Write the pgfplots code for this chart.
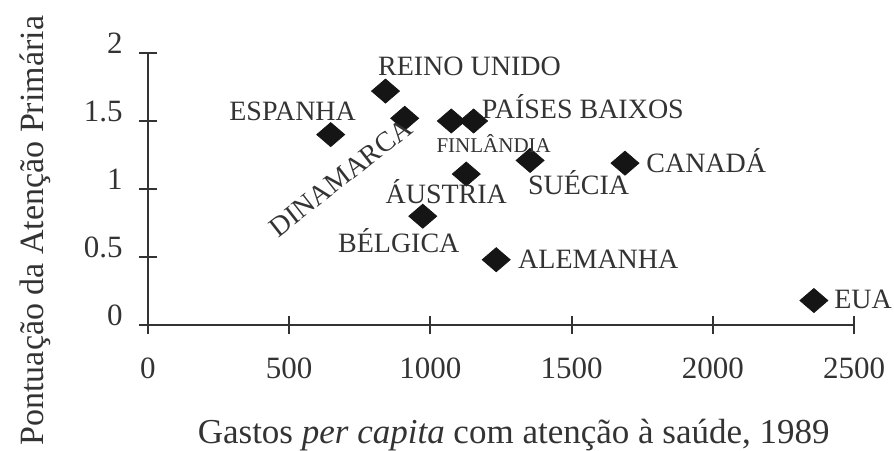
\documentclass[border=0pt]{standalone}
\usepackage{fontspec}
\setmainfont{Liberation Serif}
\usepackage{pgfplots}
\usepackage{pgfplotstable}
\pgfplotsset{compat=1.18}
\definecolor{ink}{HTML}{333333}
\definecolor{mark}{HTML}{151515}

% x: gasto per capita, y: pontuacao; lx/ly: deslocamento do rotulo (pt)
\pgfplotstableread[col sep=comma]{
x,y,nome,lx,ly
841,1.72,REINO UNIDO,-3.9,8
1153,1.50,PAÍSES BAIXOS,3.9,1.2
1353,1.21,SUÉCIA,-1.2,-17.2
1689,1.19,CANADÁ,10.5,-4.5
1233,0.48,ALEMANHA,10.8,-4.5
2358,0.18,EUA,10,-4.2
}\direita
\pgfplotstableread[col sep=comma]{
x,y,nome,lx,ly
647,1.40,ESPANHA,12.8,7
}\esquerda
\pgfplotstableread[col sep=comma]{
x,y,nome,lx,ly
1127,1.11,ÁUSTRIA,-10,-14.5
973,0.80,BÉLGICA,-12,-17.9
}\baixo
\pgfplotstableread[col sep=comma]{
x,y,nome,lx,ly
1074,1.50,FINLÂNDIA,21.2,-15.8
}\finl
\pgfplotstableread[col sep=comma]{
x,y,nome,lx,ly
909,1.52,DINAMARCA,-32,-29.7
}\dinam

\pgfplotsset{
  pais/.style={only marks, mark=diamond*, mark size=6pt, color=mark,
    mark options={xscale=1.55},
    point meta=explicit symbolic,
    visualization depends on={\thisrow{lx} \as \lx},
    visualization depends on={\thisrow{ly} \as \ly},
    nodes near coords,
    nodes near coords style={anchor=#1, xshift=\lx pt, yshift=\ly pt,
        inner sep=0pt, text=ink, font=\fontsize{14}{15}\selectfont},
  },
}

\begin{document}
\begin{tikzpicture}
\begin{axis}[
    scale only axis,
    width=353pt, height=136pt,
    xmin=0, xmax=2500, ymin=0, ymax=2,
    axis x line*=bottom, axis y line*=left,
    axis line style={ink, line width=1pt},
    clip=false,
    xtick={0,500,...,2500},
    ytick={0,0.5,...,2},
    tick align=center,
    major tick length=9pt,
    tick style={ink, line width=1pt},
    /pgf/number format/1000 sep={},
    /pgf/number format/assume math mode=true,
    ticklabel style={font=\fontsize{15.5}{16}\selectfont, text=ink, inner sep=0pt},
    xticklabel style={anchor=base, yshift=-22pt},
    yticklabel style={anchor=base east, xshift=-8pt, yshift=0pt},
    xlabel={Gastos \emph{per capita} com atenção à saúde, 1989},
    ylabel={Pontuação da Atenção Primária},
    every axis x label/.style={at={(axis description cs:0.518,0)}, anchor=base,
        yshift=-59pt, font=\fontsize{17.5}{18}\selectfont, text=ink},
    every axis y label/.style={at={(axis description cs:-0.1485,0.347)}, rotate=90,
        anchor=base, font=\fontsize{17}{18}\selectfont, text=ink},
]
\addplot[pais=base west] table[x=x, y=y, meta=nome] {\direita};
\addplot[pais=base east] table[x=x, y=y, meta=nome] {\esquerda};
\addplot[pais=base] table[x=x, y=y, meta=nome] {\baixo};
\addplot[pais=base, nodes near coords style={font=\fontsize{10.5}{11}\selectfont}]
    table[x=x, y=y, meta=nome] {\finl};
\addplot[pais=center, nodes near coords style={rotate=38}]
    table[x=x, y=y, meta=nome] {\dinam};
\end{axis}
\pgfresetboundingbox
\path[use as bounding box] (-74pt,-62.5pt) rectangle (373pt,162.5pt);
\end{tikzpicture}
\end{document}
